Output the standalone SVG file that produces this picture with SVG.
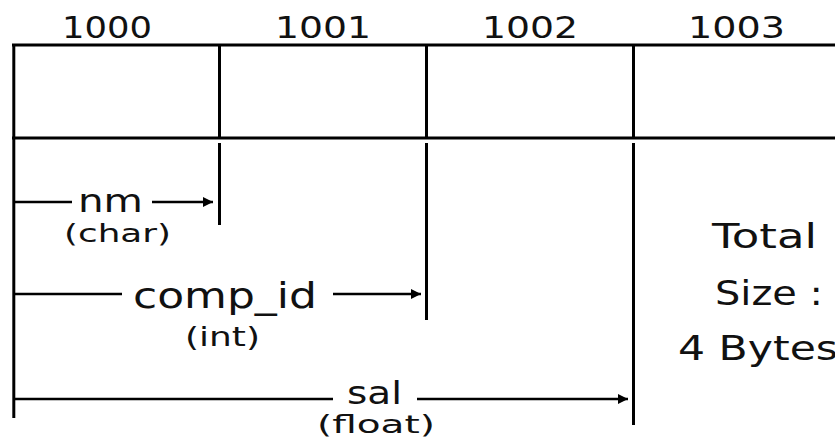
<svg xmlns="http://www.w3.org/2000/svg" width="835" height="439" viewBox="0 0 835 439">
  <style>
    .ln { stroke: #000; stroke-width: 3; fill: none; }
    .ar { stroke: #000; stroke-width: 2.7; fill: none; }
    .t { font-family: "DejaVu Sans", "Liberation Sans", sans-serif; fill: #111; text-anchor: start; }
  </style>
  <defs>
    <marker id="ah" markerUnits="userSpaceOnUse" markerWidth="10" markerHeight="10" refX="10" refY="5" orient="auto">
      <path d="M0,0 L10,5 L0,10 z" fill="#000"/>
    </marker>
  </defs>
  <rect width="835" height="439" fill="#fff"/>

  <g id="frame">
    <line class="ln" x1="12" y1="45" x2="835" y2="45"/>
    <line class="ln" x1="12" y1="138" x2="835" y2="138"/>
    <line class="ln" x1="13.8" y1="44" x2="13.8" y2="418"/>
    <line class="ln" x1="219.5" y1="45" x2="219.5" y2="138"/>
    <line class="ln" x1="426.5" y1="45" x2="426.5" y2="138"/>
    <line class="ln" x1="633.5" y1="45" x2="633.5" y2="138"/>
    <line class="ln" x1="219.5" y1="143" x2="219.5" y2="225"/>
    <line class="ln" x1="426.5" y1="143" x2="426.5" y2="320"/>
    <line class="ln" x1="633.5" y1="143" x2="633.5" y2="425"/>
  </g>

  <g id="headers">
    <text class="t" x="62" y="38" font-size="31" textLength="90" lengthAdjust="spacingAndGlyphs">1000</text>
    <text class="t" x="275" y="38" font-size="31" textLength="96" lengthAdjust="spacingAndGlyphs">1001</text>
    <text class="t" x="482" y="38" font-size="31" textLength="96" lengthAdjust="spacingAndGlyphs">1002</text>
    <text class="t" x="688" y="38" font-size="31" textLength="97" lengthAdjust="spacingAndGlyphs">1003</text>
  </g>

  <g id="connectors">
    <line class="ar" x1="13" y1="202" x2="72" y2="202"/>
    <line class="ar" x1="152" y1="202" x2="213" y2="202" marker-end="url(#ah)"/>
    <line class="ar" x1="13" y1="294" x2="122" y2="294"/>
    <line class="ar" x1="333" y1="294" x2="421" y2="294" marker-end="url(#ah)"/>
    <line class="ar" x1="13" y1="399" x2="333" y2="399"/>
    <line class="ar" x1="417" y1="399" x2="628" y2="399" marker-end="url(#ah)"/>
  </g>

  <g id="nm">
    <text class="t" x="78" y="212" font-size="32" textLength="65" lengthAdjust="spacingAndGlyphs">nm</text>
    <text class="t" x="64" y="242" font-size="25" textLength="107" lengthAdjust="spacingAndGlyphs">(char)</text>
  </g>
  <g id="comp_id">
    <text class="t" x="133" y="308" font-size="36" textLength="184" lengthAdjust="spacingAndGlyphs">comp_id</text>
    <text class="t" x="185" y="346" font-size="26" textLength="75" lengthAdjust="spacingAndGlyphs">(int)</text>
  </g>
  <g id="sal">
    <text class="t" x="347" y="404" font-size="32" textLength="55" lengthAdjust="spacingAndGlyphs">sal</text>
    <text class="t" x="317" y="433" font-size="25" textLength="118" lengthAdjust="spacingAndGlyphs">(float)</text>
  </g>
  <g id="total">
    <text class="t" x="712" y="248" font-size="33" textLength="105" lengthAdjust="spacingAndGlyphs">Total</text>
    <text class="t" x="715" y="305" font-size="33" textLength="108" lengthAdjust="spacingAndGlyphs">Size :</text>
    <text class="t" x="678" y="360" font-size="33" textLength="160" lengthAdjust="spacingAndGlyphs">4 Bytes</text>
  </g>
</svg>
